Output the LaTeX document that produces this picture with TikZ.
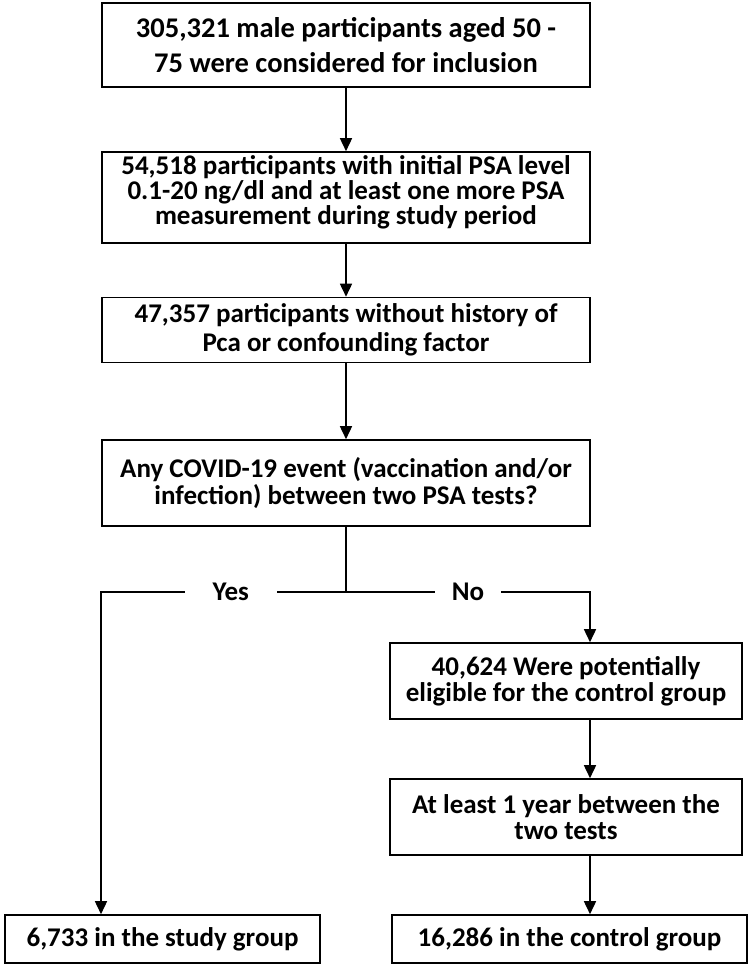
\documentclass[tikz,border=0pt]{standalone}
\usepackage{fontspec}
\setmainfont{Carlito}
\usetikzlibrary{arrows.meta}

\begin{document}
\begin{tikzpicture}[x=1bp, y=-1bp,
  BoxStyle/.style={draw=black, line width=1.6bp, align=center, inner sep=0pt,
    font=\fontsize{27bp}{#1}\selectfont\bfseries},
  BoxStyle/.default=28bp,
  ArrowStyle/.style={line width=1.6bp, -{Triangle[length=13bp,width=12bp]}},
  LabelStyle/.style={fill=white, inner ysep=3bp, font=\fontsize{27bp}{28bp}\selectfont\bfseries}]
  \useasboundingbox (0,0) rectangle (750,968);
  % main column
  \node[BoxStyle=35bp, minimum width=488bp, minimum height=84bp,
    font=\fontsize{28.5bp}{35bp}\selectfont\bfseries] (cohort) at (346,45)
    {305,321 male participants aged 50 -\\75 were considered for inclusion};
  \node[BoxStyle=25bp, minimum width=488bp, minimum height=91bp, text depth=14bp] (psa) at (346,197.5)
    {54,518 participants with initial PSA level\\0.1-20 ng/dl and at least one more PSA\\measurement during study period};
  \node[BoxStyle=29bp, minimum width=488bp, minimum height=65bp] (nohist) at (346,330)
    {47,357 participants without history of\\Pca or confounding factor};
  \node[BoxStyle=27bp, minimum width=488bp, minimum height=86bp] (event) at (346,483)
    {Any COVID-19 event (vaccination and/or\\infection) between two PSA tests?};
  % right column
  \node[BoxStyle=26bp, minimum width=352bp, minimum height=76bp] (eligible) at (566,681)
    {40,624 Were potentially\\eligible for the control group};
  \node[BoxStyle=26bp, minimum width=352bp, minimum height=76bp] (oneyear) at (566,817)
    {At least 1 year between the\\two tests};
  % final groups
  \node[BoxStyle, minimum width=315bp, minimum height=48bp] (study) at (162.5,939)
    {6,733 in the study group};
  \node[BoxStyle, minimum width=355bp, minimum height=48bp] (control) at (569.5,939)
    {16,286 in the control group};
  % split points
  \coordinate (split) at (346,592);
  \coordinate (leftc) at (101,592);
  \coordinate (rightc) at (590,592);
  \draw[ArrowStyle] (cohort) -- (psa);
  \draw[ArrowStyle] (psa) -- (nohist);
  \draw[ArrowStyle] (nohist) -- (event);
  \draw[line width=1.6bp] (event) -- (split);
  \draw[ArrowStyle] (split) -- node[LabelStyle, pos=0.47, inner xsep=28bp] (yes) {Yes}
    (leftc) -- (leftc |- study.north);
  \draw[ArrowStyle] (split) -- node[LabelStyle, inner xsep=17bp] (no) {No}
    (rightc) -- (rightc |- eligible.north);
  \draw[ArrowStyle] (eligible.south -| rightc) -- (oneyear.north -| rightc);
  \draw[ArrowStyle] (oneyear.south -| rightc) -- (control.north -| rightc);
\end{tikzpicture}
\end{document}
